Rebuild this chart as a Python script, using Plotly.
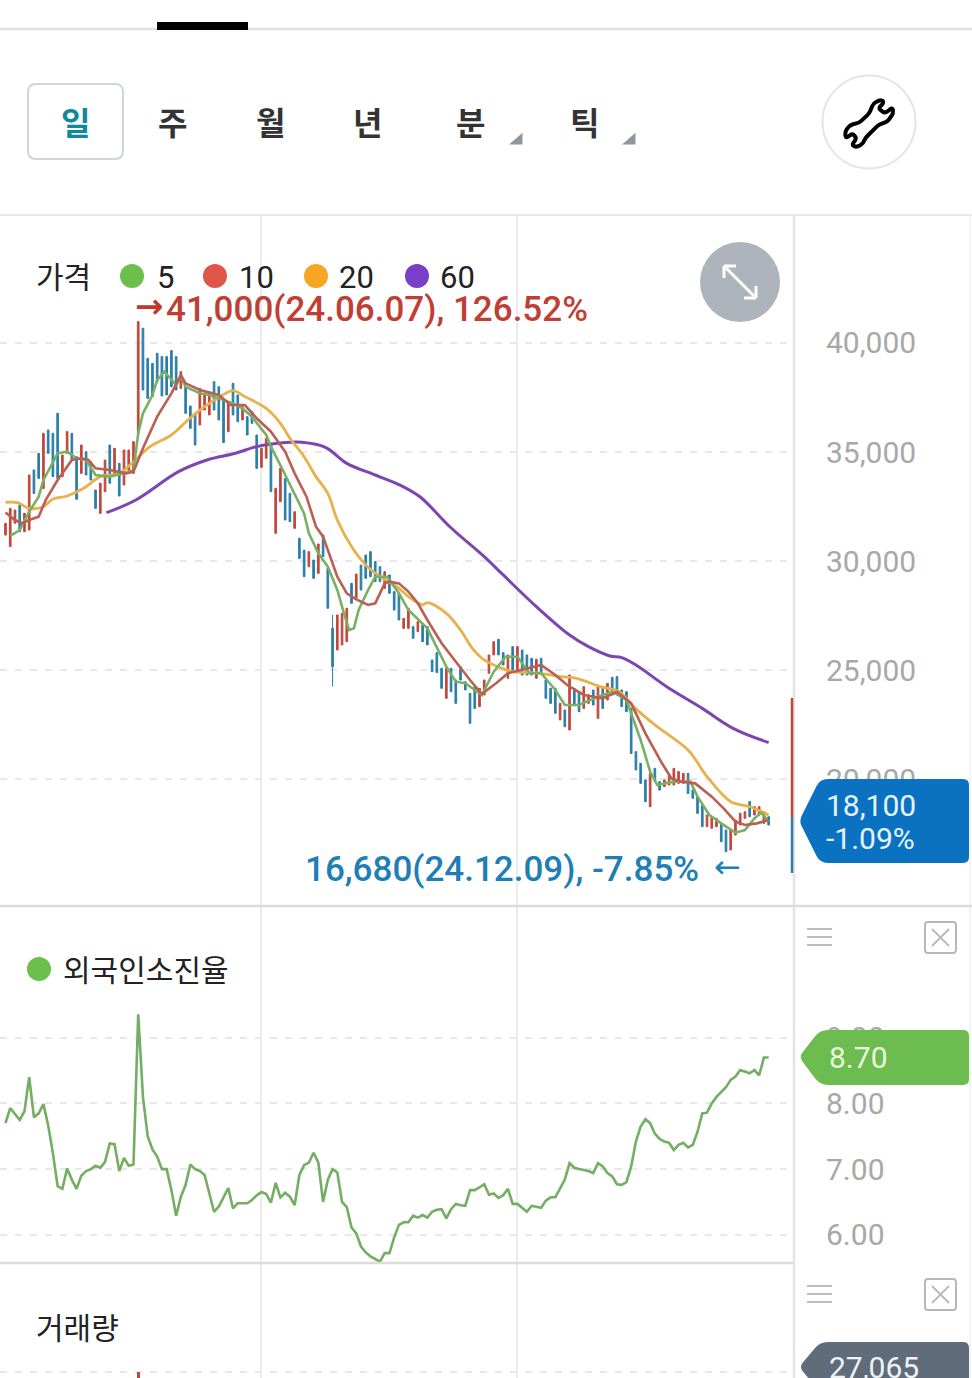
import plotly.graph_objects as go

W, H = 972, 1378

# ---------- data ----------
highs = [31730,32415,32340,32570,32190,33945,34175,34940,35855,36010,
 35855,36775,34860,35935,35855,34785,35320,35015,34555,33255,
 33565,34630,35320,35170,34480,35090,35090,35475,40980,40675,
 39295,39065,39525,39375,39375,39650,39375,38685,37995,37110,
 36775,37920,37690,37765,38225,37995,37385,37310,38150,37615,
 37080,36620,36850,35780,35170,35625,35400,33335,34250,33790,
 33100,32260,31040,30500,30430,30045,30780,31195,29665,27525,
 27525,27600,27830,28975,29400,29815,30275,30430,29970,29740,
 29510,29360,28595,28515,27370,27830,26990,27220,27065,26990,
 25460,25795,25080,25080,25080,24540,25155,24465,23930,24235,
 24160,24540,25690,26300,26410,25795,25690,26070,26070,25920,
 25690,25535,25490,25535,24540,24160,24160,23470,23165,24770,
 24160,24005,24235,23855,24085,24235,24160,24390,24665,24695,
 24085,24005,23240,21255,20720,19955,20260,20490,19880,19955,
 20185,20490,20340,20260,20260,19495,19190,18810,18350,18270,
 18195,17965,17660,17660,18120,18425,18500,18965,18730,18730,
 18500,18270]
lows = [31190,30660,31730,31345,31345,31420,33100,33790,33330,34940,
 33870,33790,33870,34940,34630,32830,34020,33945,33715,32415,
 32185,33180,33565,34020,32980,33485,34175,34020,35855,37845,
 37460,37540,38225,37570,37615,37995,37845,37920,36775,36085,
 35320,36240,36925,36700,36925,36470,35430,35930,36700,36390,
 36470,35780,36315,34250,34295,34710,33180,31270,32720,31880,
 31805,31500,30120,29280,29740,29205,29435,30200,27830,24235,
 25920,26150,26300,28060,28290,28670,29205,29280,29055,29055,
 28745,28520,27750,27295,26910,26910,26455,26760,26300,26150,
 24925,24880,24160,23700,24005,23470,24540,24085,22555,23240,
 23320,23855,24850,25690,25690,25230,24620,25000,24925,24770,
 24770,24770,24620,24850,23700,23470,23015,22710,22400,22250,
 23395,23090,23240,23470,23395,22785,23240,23625,23855,23855,
 23320,23090,21175,20415,19800,18960,18730,19880,19495,19650,
 19725,19725,19800,19800,19340,19115,18425,17815,17815,17740,
 17815,17125,16665,16745,17430,17890,18195,18270,18350,18350,
 17965,17890]
directions = list("RRRBRRBBRB" "BBRRBBRBBB" "RRBRBRRRRB" "BBBBBBBRBB" "BRRRBBBRBB"
                  "RBBBRRBRRB" "BRBBRBRBBB" "RRRBRBBBBB" "RBBBRRBRBB" "BBBRBBBBBB"
                  "RRRRBBRBRB" "BBRBBBBRBR" "BBRRBRBRBB" "BBBBBBRBBR" "RRRRBBBBRR"
                  "RBBRRRRBRR" "RB")
assert len(highs) == len(lows) == len(directions) == 162

opens = [l if d == "R" else h for h, l, d in zip(highs, lows, directions)]
closes = [h if d == "R" else l for h, l, d in zip(highs, lows, directions)]
opens[69], closes[69] = 26910, 25150      # long lower wick on this bar
bars = list(range(len(highs)))

ma5_x = [1,3,5,7,8,10,11,13,15,17,19,22,25,27,28,29,31,32,33.5,36,37,38,41,43,46,48,50,52,55,56,58.5,60.5,63,64,66,68,70,71.5,72.5,73.5,74.5,76.5,78,80.5,83,85,89,93,95,97,100.5,103,105.5,108,110.5,113,116,118,121,125,128,131,134,136,137.5,141,144.5,146,148.5,151,154,156,158,159.5,161]
ma5_y = [31150,31420,32260,32950,33715,34560,34940,35015,34710,34635,33945,33870,34020,34175,35855,36775,37615,38300,38685,38075,38455,37995,37690,37615,37385,37230,37000,36620,35780,35245,34175,33255,32185,31270,30350,29740,28670,27525,26835,26910,27750,28670,29280,29280,28520,27750,26910,25155,24465,24390,23855,24925,25610,25610,24850,24850,24085,23395,23395,23780,24005,23625,21790,20340,19725,19880,19880,19190,18350,17965,17540,17660,18195,18460,18040]

ma10_x = [0,2,3.5,5,7,8.5,11,14,16,17.5,19,22,25.5,27,29,32,35,37,38,41,45,47.5,50.5,53,56,59,61,63.5,65.5,67,68.5,70,72,74,76.5,78,80,81,83,85,87,89,92,95,98,100.5,103.5,106,110,113,116,118.5,122,126,129,132,135,138.5,140.5,142.5,145.5,149,151.5,154,156,158.5,161]
ma10_y = [32220,31880,31730,31880,32035,32800,33715,34635,34710,34635,34250,34175,34020,34100,35170,36620,37690,38530,38150,37845,37615,37155,37155,36545,35930,35015,34020,32950,31575,31115,30200,29280,28515,28240,27985,28060,28975,29050,28975,28595,28060,27295,26225,25385,24540,23900,24390,24850,25075,25230,24770,24310,23855,23700,24005,23470,22095,20720,20030,19880,19800,19190,18655,18045,17890,17965,18120]

ma20_x = [0,2.5,5,8,10,13,16.5,20,24,27,30.5,35,38.5,42,45.5,48,50.5,55,58,60,63,65.5,68,70,73,76,78.5,83,85,88,89,93,96,98.5,101,103.5,107,113,117,120.5,125.5,129.5,132.5,137,144,148,153,157,161]
ma20_y = [32690,32675,32415,32490,32845,32980,33335,33870,34020,34555,35245,35780,36470,37080,37570,37815,37540,37000,36315,35630,34785,33870,33105,31880,30660,29815,29360,28745,28365,27985,28090,27600,26835,25995,25460,25185,24925,24850,24695,24620,24235,24005,23320,22480,21330,20110,18960,18730,18350]

ma60_x = [21.3,27.5,36.5,42.5,48.5,53,59,62.5,67.5,72,78,83.5,87.5,93.8,101,105,112,119,123,127.5,130,133,139.5,147,153.5,161]
ma60_y = [32215,32800,34100,34635,34940,35245,35430,35445,35215,34480,33945,33455,32935,31560,30200,29360,27906,26605,26070,25645,25565,25230,24235,23240,22325,21670]

foreign = [7.70,7.93,7.84,7.75,7.88,8.40,7.79,7.85,7.99,7.67,7.24,6.74,6.70,7.01,6.84,6.70,6.90,6.97,7.00,7.05,
 7.02,7.11,7.39,7.38,6.97,7.17,7.05,7.07,9.36,8.10,7.50,7.30,7.19,7.00,7.00,6.68,6.29,6.58,6.76,7.07,
 7.00,6.97,6.91,6.61,6.35,6.43,6.57,6.71,6.40,6.48,6.48,6.48,6.53,6.60,6.65,6.62,6.49,6.79,6.57,6.64,
 6.58,6.45,6.91,7.06,7.10,7.25,7.10,6.50,6.84,7.00,6.95,6.50,6.42,6.11,6.02,5.82,5.73,5.67,5.63,5.59,
 5.72,5.72,5.96,6.15,6.19,6.19,6.29,6.26,6.30,6.26,6.35,6.38,6.39,6.25,6.39,6.47,6.45,6.44,6.68,6.68,
 6.72,6.77,6.61,6.63,6.56,6.60,6.70,6.47,6.47,6.41,6.35,6.44,6.43,6.41,6.52,6.57,6.57,6.71,6.84,7.09,
 7.02,7.00,6.99,6.97,6.94,7.09,7.04,6.94,6.89,6.77,6.76,6.80,7.04,7.42,7.65,7.76,7.70,7.54,7.46,7.42,
 7.40,7.29,7.37,7.40,7.33,7.37,7.57,7.85,7.86,8.00,8.10,8.17,8.25,8.36,8.41,8.51,8.49,8.46,8.51,8.43,
 8.70,8.70]
assert len(foreign) == 162

volume_bars = [28]
volume_vals = [5000000]

price_ticks = [20000, 25000, 30000, 35000, 40000]
price_labels = ["20,000", "25,000", "30,000", "35,000", "40,000"]
foreign_ticks = [6, 7, 8, 9]
foreign_labels = ["6.00", "7.00", "8.00", "9.00"]
period_bars = [54, 108]
range_marker = [23716, 18257, 15690]   # day-range bar at the right of the price pane

tabs = ["일", "주", "월", "년", "분", "틱"]
ma_names = ["5", "10", "20", "60"]

# ---------- helpers (pixel layout -> paper coords) ----------
def X(x): return x / W
def Y(y): return 1 - y / H

def path(points, close=True):
    s = "M" + " L".join(f"{X(a):.5f},{Y(b):.5f}" for a, b in points)
    return s + (" Z" if close else "")

def rounded(points, radii):
    """Closed outline whose corners are rounded with quadratic curves."""
    n = len(points)
    parts = []
    for i in range(n):
        px_, py_ = points[i - 1]
        cx, cy = points[i]
        nx, ny = points[(i + 1) % n]
        r = radii[i]
        d1 = ((px_ - cx) ** 2 + (py_ - cy) ** 2) ** 0.5
        d2 = ((nx - cx) ** 2 + (ny - cy) ** 2) ** 0.5
        ax, ay = cx + (px_ - cx) * r / d1, cy + (py_ - cy) * r / d1
        bx, by = cx + (nx - cx) * r / d2, cy + (ny - cy) * r / d2
        parts.append(("M" if i == 0 else "L") + f"{X(ax):.5f},{Y(ay):.5f}")
        parts.append(f"Q{X(cx):.5f},{Y(cy):.5f} {X(bx):.5f},{Y(by):.5f}")
    return " ".join(parts) + " Z"

shapes = []
def line(x0, y0, x1, y1, color, width=1.5, layer="above"):
    shapes.append(dict(type="line", xref="paper", yref="paper", x0=X(x0), x1=X(x1), y0=Y(y0), y1=Y(y1),
                       line=dict(color=color, width=width), layer=layer))
def rect(x0, y0, x1, y1, fill, border=None, width=0):
    shapes.append(dict(type="rect", xref="paper", yref="paper", x0=X(x0), x1=X(x1), y0=Y(y0), y1=Y(y1),
                       fillcolor=fill, line=dict(color=border or fill, width=width), layer="above"))
def circle(cx, cy, r, fill, border=None, width=0):
    shapes.append(dict(type="circle", xref="paper", yref="paper", x0=X(cx - r), x1=X(cx + r), y0=Y(cy - r), y1=Y(cy + r),
                       fillcolor=fill, line=dict(color=border or fill, width=width), layer="above"))
def poly(points, fill):
    shapes.append(dict(type="path", xref="paper", yref="paper", path=path(points), fillcolor=fill,
                       line=dict(color=fill, width=3), layer="above"))
def tag(points, radii, fill):
    shapes.append(dict(type="path", xref="paper", yref="paper", path=rounded(points, radii), fillcolor=fill,
                       line=dict(color=fill, width=0), layer="above"))

annotations = []
def text(x, y, s, size, color, family="Roboto", anchor="left", weight=400):
    annotations.append(dict(xref="paper", yref="paper", x=X(x), y=Y(y), text=s, showarrow=False,
                            xanchor=anchor, yanchor="middle", align="left", borderpad=0, borderwidth=0,
                            font=dict(size=size, color=color, family=family, weight=weight)))

CJK = "Noto Sans CJK KR"
GRID = "#ececec"
SEP = "#dcdcdc"

# ---------- traces ----------
fig = go.Figure()
fig.add_trace(go.Candlestick(x=bars, open=opens, high=highs, low=lows, close=closes, whiskerwidth=0,
                             increasing=dict(line=dict(color="#c2473b", width=1), fillcolor="#c2473b"),
                             decreasing=dict(line=dict(color="#2a7fa8", width=1), fillcolor="#2a7fa8"),
                             xaxis="x", yaxis="y"))
fig.add_trace(go.Scatter(x=ma60_x, y=ma60_y, mode="lines", line=dict(color="#7c45b0", width=3, shape="spline", smoothing=1), xaxis="x", yaxis="y"))
fig.add_trace(go.Scatter(x=ma20_x, y=ma20_y, mode="lines", line=dict(color="#e8b14a", width=2.8, shape="spline", smoothing=1), xaxis="x", yaxis="y"))
fig.add_trace(go.Scatter(x=ma5_x, y=ma5_y, mode="lines", line=dict(color="#78b064", width=2.6), xaxis="x", yaxis="y"))
fig.add_trace(go.Scatter(x=ma10_x, y=ma10_y, mode="lines", line=dict(color="#bb5f52", width=2.6), xaxis="x", yaxis="y"))
fig.add_trace(go.Scatter(x=bars, y=foreign, mode="lines", line=dict(color="#73ae62", width=2.6), xaxis="x2", yaxis="y2"))
fig.add_trace(go.Bar(x=volume_bars, y=volume_vals, marker=dict(color="#c2473b", line=dict(width=0)), width=0.7, xaxis="x3", yaxis="y3"))

# ---------- header ----------
line(0, 29, 972, 29, "#e2e2e2", 2.5)
rect(157, 22, 248, 30, "#000000")
shapes.append(dict(type="path", xref="paper", yref="paper", layer="above", fillcolor="#ffffff",
                   line=dict(color="#cfd5d8", width=2),
                   path=rounded([(28, 84), (123, 84), (123, 159), (28, 159)], [8, 8, 8, 8])))
tab_x = [75, 172, 270, 367, 470, 584]
for i, (tx, t) in enumerate(zip(tab_x, tabs)):
    text(tx, 121, t, 32, "#0f8a9d" if i == 0 else "#333333", CJK, "center", 700)
poly([(521, 136), (521, 143), (513, 143)], "#8f979c")
poly([(634, 136), (634, 143), (626, 143)], "#8f979c")
circle(869, 122, 46.5, "#ffffff", "#e4e4e4", 2)
# wrench icon, outline
def Z(zx, zy): return (810 + zx / 3, 70 + zy / 3)
wrench = [Z(*p) for p in [(178,130),(190,100),(215,88),(222,98),(205,115),(225,130),(248,112),(250,130),(232,155),(205,165),
                          (165,205),(160,220),(140,232),(125,225),(140,205),(128,190),(107,205),(105,185),(120,165),(148,158)]]
shapes.append(dict(type="path", xref="paper", yref="paper", layer="above", fillcolor="#ffffff",
                   line=dict(color="#000000", width=4), path=rounded(wrench, [3] * len(wrench))))

# ---------- pane frames ----------
line(0, 215, 972, 215, "#e8e8e8", 2)
line(794, 215, 794, 1378, "#e4e4e4", 2.5)
line(970, 215, 970, 1378, "#efefef", 1.5)
line(0, 906, 972, 906, SEP, 2.5)
line(0, 1263, 793, 1263, SEP, 2.5)

# expand button
circle(740, 282, 40, "#aeb4bb")
line(726, 268, 754, 296, "#ffffff", 3)
line(724, 266, 736, 266, "#ffffff", 3)
line(724, 266, 724, 278, "#ffffff", 3)
line(756, 298, 744, 298, "#ffffff", 3)
line(756, 298, 756, 286, "#ffffff", 3)

# day range marker on the price pane
shapes.append(dict(type="line", xref="paper", yref="y", x0=X(792), x1=X(792), y0=range_marker[0], y1=range_marker[1],
                   line=dict(color="#b8473c", width=2.5), layer="above"))
shapes.append(dict(type="line", xref="paper", yref="y", x0=X(792), x1=X(792), y0=range_marker[1], y1=range_marker[2],
                   line=dict(color="#2a7fa8", width=2.5), layer="above"))

# pane icons
for top in (929, 1286):
    for k in range(3):
        line(807, top + 8 * k, 832, top + 8 * k, "#b5b5b5", 1.8)
    bx = top - 7
    shapes.append(dict(type="path", xref="paper", yref="paper", layer="above", fillcolor="#ffffff",
                       line=dict(color="#b8b8b8", width=2),
                       path=rounded([(925, bx), (956, bx), (956, bx + 31), (925, bx + 31)], [3, 3, 3, 3])))
    line(932, bx + 7, 949, bx + 24, "#b8b8b8", 1.8)
    line(949, bx + 7, 932, bx + 24, "#b8b8b8", 1.8)

# value tags
tag([(820, 779), (969, 779), (969, 863), (820, 863), (799, 821)], [8, 6, 6, 8, 6], "#0b72c2")
tag([(820, 1030), (969, 1030), (969, 1085), (820, 1085), (799, 1057)], [8, 6, 6, 8, 6], "#6cbc50")
tag([(820, 1342), (969, 1342), (969, 1392), (820, 1392), (799, 1367)], [8, 6, 6, 8, 6], "#606c79")
text(826, 805, "18,100", 30, "#e4f5ff")
text(826, 838, "-1.09%", 30, "#e4f5ff")
text(829, 1057, "8.70", 30, "#eaf8dc")
text(829, 1367, "27,065", 30, "#eef2f5")

# ---------- legends and markers ----------
text(36, 275, "가격", 30, "#222222", CJK)
for cx, tx, name, col in zip([132, 215, 316, 417], [157, 239, 339, 440], ma_names,
                             ["#6cbf4c", "#e0574a", "#f5a623", "#7b3ec8"]):
    circle(cx, 276, 12, col)
    text(tx, 277, name, 31, "#222222")
text(135, 306, "→", 34, "#c0392f", "DejaVu Sans", "left", 700)
text(166, 309, "41,000(24.06.07), 126.52%", 35, "#bf3f34", "Roboto", "left", 500)
text(305, 869, "16,680(24.12.09), -7.85%", 35, "#1d7fb5", "Roboto", "left", 500)
text(714, 867, "←", 32, "#1d7fb5", "DejaVu Sans", "left", 400)
circle(39, 969, 12, "#6cbf4c")
text(63, 968, "외국인소진율", 30, "#222222", CJK)
text(36, 1326, "거래량", 30, "#222222", CJK)

# ---------- axes ----------
xr = [-1.16, 166.14]
xdom = [0, 793 / W]
common_x = dict(range=xr, domain=xdom, tickvals=period_bars, showticklabels=False, ticks="",
                showgrid=True, gridcolor=GRID, gridwidth=2, zeroline=False, showline=False, rangeslider=dict(visible=False))
tick_font = dict(family="Roboto", size=30, color="#a8a8a8")
common_y = dict(side="right", showgrid=True, gridcolor="#e8e8e8", griddash="7px,8px", gridwidth=2, zeroline=False,
                showline=False, ticks="", tickfont=tick_font, ticklabelstandoff=32)

fig.update_layout(
    width=W, height=H, autosize=False, margin=dict(l=0, r=0, t=0, b=0, pad=0),
    paper_bgcolor="#ffffff", plot_bgcolor="#ffffff", showlegend=False, hovermode=False, bargap=0, boxgap=0.5,
    xaxis=dict(anchor="y", **common_x),
    xaxis2=dict(anchor="y2", **common_x),
    xaxis3=dict(anchor="y3", **common_x),
    yaxis=dict(anchor="x", domain=[Y(906), Y(215)], range=[14175, 45871],
               tickvals=price_ticks, ticktext=price_labels, **common_y),
    yaxis2=dict(anchor="x2", domain=[Y(1263), Y(906)], range=[5.569, 11.01],
                tickvals=foreign_ticks, ticktext=foreign_labels, **common_y),
    yaxis3=dict(anchor="x3", domain=[0, Y(1263)], range=[4970000, 5545000],
                tickvals=[5000000], ticktext=[""], **common_y),
    shapes=shapes, annotations=annotations,
)

fig.write_html("out.html", post_script="document.body.style.margin='0';", config=dict(displayModeBar=False))
